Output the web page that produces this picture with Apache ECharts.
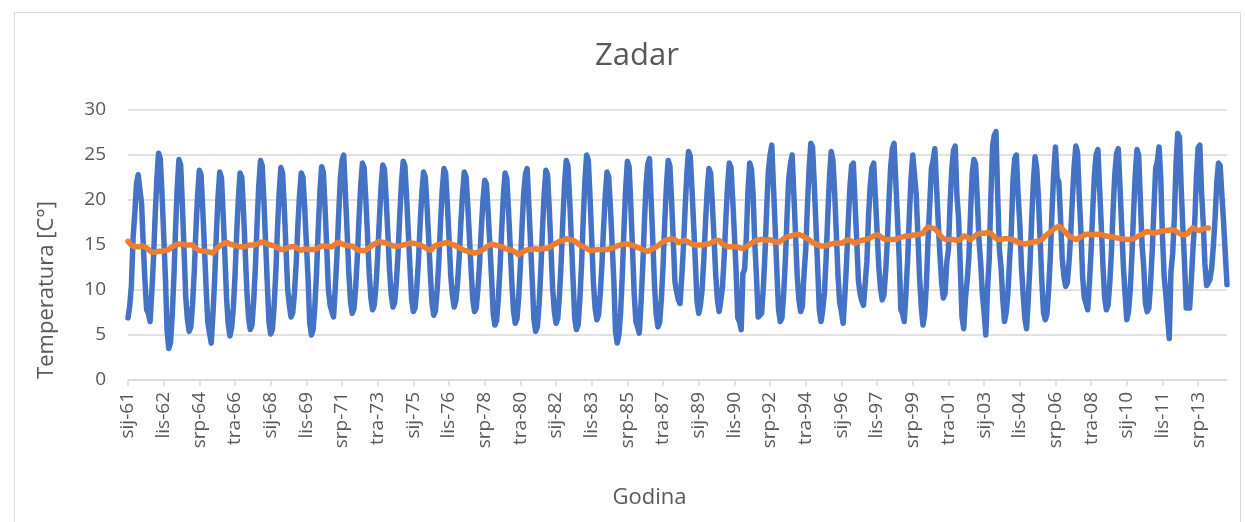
<!DOCTYPE html>
<html><head><meta charset="utf-8">
<script src="https://cdn.jsdelivr.net/npm/echarts@6/dist/echarts.min.js"></script>
<style>html,body{margin:0;padding:0;background:#fff}#c{width:1245px;height:522px}</style>
</head><body><div id="c"></div>
<script>
// Croatian month abbreviations used in the tick labels
const monthAbbr = ['sij','velj','ožu','tra','svi','lip','srp','kol','ruj','lis','stu','pro'];
const firstYear = 1961;
const lastYear = 2014;

// Monthly mean temperature, Zadar (one row per year, Jan..Dec)
const monthlyTemp = [
6.9, 8.2, 10.5, 15.8, 18.5, 21.8, 22.8, 22.7, 19.6, 15.0, 11.0, 7.8,
7.4, 6.5, 9.7, 13.4, 18.3, 22.4, 25.2, 24.6, 20.7, 16.2, 11.5, 5.5,
3.5, 4.1, 7.1, 11.3, 16.7, 21.4, 24.5, 23.9, 19.5, 14.4, 9.2, 6.7,
5.4, 5.9, 8.4, 12.0, 16.7, 20.6, 23.3, 22.8, 19.0, 14.7, 10.2, 6.4,
5.2, 4.1, 7.3, 11.1, 16.1, 20.3, 23.1, 22.5, 18.5, 14.0, 9.2, 6.2,
4.9, 5.8, 8.0, 11.6, 16.3, 20.3, 23.0, 22.5, 18.7, 14.3, 9.8, 6.9,
5.6, 6.1, 8.8, 12.6, 17.4, 21.6, 24.4, 23.8, 19.9, 15.4, 10.7, 6.4,
5.1, 5.6, 8.2, 11.9, 16.8, 20.8, 23.6, 23.0, 19.2, 14.7, 10.1, 8.3,
7.0, 7.5, 9.7, 12.9, 17.1, 20.6, 23.0, 22.5, 19.2, 15.3, 11.3, 6.3,
5.0, 5.6, 8.2, 11.9, 16.8, 20.9, 23.7, 23.1, 19.2, 14.7, 10.0, 8.3,
7.6, 7.0, 10.1, 13.7, 18.3, 22.3, 24.4, 25.0, 20.7, 16.4, 11.9, 8.7,
7.4, 7.9, 10.2, 13.6, 17.9, 21.6, 24.1, 23.6, 20.1, 16.1, 11.9, 9.1,
7.8, 8.3, 10.5, 13.8, 17.9, 21.5, 23.9, 23.4, 20.0, 16.2, 12.1, 9.4,
8.1, 8.6, 10.9, 14.1, 18.3, 21.9, 24.3, 23.8, 20.4, 16.5, 12.5, 8.9,
7.6, 8.0, 10.2, 13.3, 17.4, 20.8, 23.1, 22.6, 19.4, 15.7, 11.8, 8.5,
7.2, 7.7, 10.0, 13.2, 17.5, 21.1, 23.5, 23.0, 19.6, 15.7, 11.6, 9.4,
8.1, 8.8, 10.7, 13.7, 17.6, 20.9, 23.1, 22.6, 19.5, 15.9, 12.2, 8.9,
7.6, 8.0, 10.1, 13.0, 16.8, 20.0, 22.2, 21.8, 18.7, 15.2, 11.5, 7.4,
6.1, 6.6, 9.0, 12.4, 16.7, 20.5, 23.0, 22.4, 18.9, 14.9, 10.7, 7.6,
6.3, 6.8, 9.2, 12.7, 17.1, 20.9, 22.9, 23.5, 19.4, 15.2, 10.9, 6.7,
5.4, 5.9, 8.4, 12.0, 16.7, 20.6, 23.3, 22.8, 19.0, 14.7, 10.2, 7.6,
6.3, 6.8, 9.4, 13.0, 17.7, 21.7, 24.4, 23.8, 20.1, 15.7, 11.2, 6.9,
5.6, 6.1, 8.9, 12.8, 17.8, 22.1, 25.0, 24.4, 20.3, 15.7, 10.8, 8.0,
6.7, 7.2, 9.5, 12.8, 17.0, 20.6, 23.1, 22.6, 19.2, 15.2, 11.1, 5.4,
4.1, 5.0, 7.5, 11.6, 16.8, 21.3, 24.3, 23.7, 19.5, 14.6, 9.6, 6.5,
5.9, 5.2, 8.5, 12.4, 17.4, 21.7, 24.0, 24.6, 19.9, 15.3, 10.4, 7.2,
5.9, 6.4, 9.0, 12.7, 17.6, 21.6, 24.4, 23.8, 20.0, 15.5, 10.9, 9.8,
8.9, 8.5, 11.4, 14.8, 19.1, 22.9, 25.4, 24.9, 21.3, 17.3, 13.1, 8.7,
7.4, 8.3, 10.1, 13.4, 17.5, 21.1, 23.5, 23.0, 19.6, 15.8, 11.7, 8.9,
7.6, 8.8, 10.4, 13.7, 18.0, 21.6, 24.1, 23.6, 20.1, 16.2, 12.1, 6.9,
6.5, 5.6, 11.8, 12.3, 15.8, 21.0, 24.1, 23.5, 20.6, 15.2, 11.4, 7.0,
6.9, 7.4, 10.2, 14.0, 19.0, 23.2, 25.0, 26.1, 21.5, 16.9, 12.1, 7.8,
6.5, 6.9, 9.6, 13.3, 18.2, 22.4, 24.0, 25.0, 20.6, 16.1, 11.5, 8.9,
7.6, 8.2, 11.8, 14.5, 19.4, 23.5, 26.3, 25.9, 21.8, 17.3, 12.6, 7.8,
6.5, 7.8, 9.7, 13.5, 18.4, 22.6, 25.4, 24.4, 20.9, 16.3, 11.6, 8.6,
7.6, 6.3, 9.3, 12.9, 17.5, 21.4, 23.8, 24.1, 19.8, 15.6, 11.1, 9.6,
8.8, 8.3, 10.7, 13.2, 18.3, 21.7, 23.6, 24.1, 20.3, 16.5, 12.6, 10.2,
8.9, 9.4, 11.9, 15.3, 19.9, 23.7, 25.7, 26.3, 22.1, 17.9, 13.6, 7.8,
7.4, 6.5, 9.7, 13.4, 18.3, 22.4, 25.0, 25.2, 20.7, 16.2, 11.5, 8.2,
6.1, 7.3, 10.5, 15.5, 19.5, 23.5, 24.4, 25.7, 21.5, 17.5, 14.0, 10.8,
9.1, 9.6, 13.0, 14.5, 19.7, 23.5, 25.5, 26.0, 20.5, 17.9, 12.5, 7.0,
5.7, 9.0, 11.0, 13.5, 18.5, 23.0, 24.5, 24.0, 20.0, 15.5, 13.0, 9.5,
7.5, 5.0, 10.0, 13.4, 20.5, 26.0, 27.2, 27.6, 20.5, 14.5, 12.5, 9.0,
6.5, 7.5, 9.6, 13.3, 16.5, 22.2, 24.6, 25.0, 20.6, 17.5, 12.5, 9.5,
6.8, 5.7, 8.9, 12.8, 17.7, 21.9, 24.8, 23.5, 20.2, 15.6, 10.9, 7.5,
6.7, 7.3, 10.0, 13.8, 18.8, 23.0, 25.9, 22.5, 22.0, 18.0, 13.5, 11.5,
10.4, 10.8, 13.1, 16.2, 20.2, 23.7, 26.0, 25.3, 20.5, 16.5, 11.5, 9.1,
8.5, 7.8, 10.8, 14.4, 19.0, 22.9, 25.1, 25.6, 21.3, 17.1, 12.6, 9.1,
7.8, 8.3, 10.8, 14.4, 19.1, 23.0, 25.2, 25.7, 21.4, 17.1, 12.6, 9.5,
6.7, 7.6, 9.9, 13.7, 18.6, 22.8, 25.6, 25.0, 20.0, 15.0, 12.5, 8.5,
7.6, 8.0, 10.7, 14.4, 19.1, 23.5, 24.3, 25.9, 22.5, 16.0, 11.5, 9.5,
7.0, 4.6, 12.0, 14.0, 18.0, 24.0, 27.4, 27.0, 21.5, 17.0, 13.0, 8.0,
8.2, 8.0, 11.1, 14.7, 17.5, 22.5, 25.8, 26.1, 21.0, 17.4, 12.9, 10.5,
10.8, 11.2, 12.5, 15.0, 18.0, 22.0, 24.1, 23.8, 20.5, 17.5, 14.0, 10.6
];

// 12-month running mean (ends Jan 2014)
const runningMean = [
15.4, 15.2, 15.0, 14.8, 14.8, 14.7, 14.8, 14.8, 14.9, 14.8, 14.8, 14.6,
14.5, 14.4, 14.2, 14.1, 14.2, 14.3, 14.3, 14.4, 14.3, 14.4, 14.4, 14.4,
14.5, 14.7, 14.8, 14.9, 15.0, 15.1, 15.1, 15.2, 15.1, 15.0, 15.0, 15.1,
15.0, 14.9, 15.0, 14.8, 14.6, 14.5, 14.4, 14.4, 14.3, 14.4, 14.3, 14.2,
14.2, 14.1, 14.1, 14.3, 14.6, 14.8, 14.9, 15.0, 15.1, 15.2, 15.3, 15.2,
15.1, 15.1, 15.0, 15.0, 14.9, 14.9, 14.8, 14.9, 14.8, 14.9, 14.9, 14.9,
15.0, 14.9, 15.0, 15.1, 15.1, 15.2, 15.3, 15.4, 15.3, 15.1, 15.1, 15.0,
15.0, 14.9, 14.9, 14.8, 14.7, 14.6, 14.5, 14.4, 14.5, 14.6, 14.7, 14.8,
14.8, 14.7, 14.8, 14.8, 14.6, 14.5, 14.4, 14.5, 14.6, 14.6, 14.5, 14.5,
14.5, 14.4, 14.5, 14.6, 14.7, 14.8, 14.9, 15.0, 14.9, 14.9, 14.8, 14.8,
14.8, 14.9, 15.1, 15.2, 15.3, 15.2, 15.1, 15.1, 15.0, 15.0, 14.9, 14.9,
14.9, 14.7, 14.6, 14.5, 14.4, 14.3, 14.4, 14.4, 14.4, 14.6, 14.7, 14.9,
15.0, 15.1, 15.2, 15.3, 15.4, 15.3, 15.3, 15.2, 15.2, 15.2, 15.1, 15.0,
14.9, 14.9, 14.9, 15.0, 14.9, 15.0, 15.0, 15.0, 15.1, 15.1, 15.2, 15.2,
15.2, 15.1, 15.1, 15.0, 15.0, 14.9, 14.8, 14.7, 14.6, 14.5, 14.4, 14.6,
14.8, 14.9, 15.0, 15.0, 15.1, 15.1, 15.2, 15.2, 15.3, 15.2, 15.1, 15.0,
15.0, 14.9, 14.8, 14.7, 14.6, 14.5, 14.4, 14.3, 14.3, 14.2, 14.2, 14.1,
14.1, 14.1, 14.2, 14.3, 14.4, 14.5, 14.6, 14.8, 14.9, 15.0, 15.1, 15.0,
15.0, 14.9, 14.9, 14.8, 14.8, 14.7, 14.6, 14.5, 14.5, 14.4, 14.4, 14.3,
14.2, 14.0, 13.9, 14.0, 14.2, 14.3, 14.4, 14.4, 14.5, 14.5, 14.5, 14.5,
14.6, 14.6, 14.5, 14.6, 14.6, 14.6, 14.6, 14.6, 14.7, 14.8, 15.0, 15.1,
15.2, 15.3, 15.4, 15.5, 15.5, 15.6, 15.7, 15.6, 15.6, 15.5, 15.5, 15.4,
15.3, 15.1, 15.0, 14.9, 14.8, 14.7, 14.6, 14.5, 14.4, 14.3, 14.4, 14.4,
14.5, 14.5, 14.5, 14.4, 14.5, 14.5, 14.5, 14.6, 14.6, 14.7, 14.7, 14.8,
14.9, 14.9, 15.0, 15.1, 15.1, 15.2, 15.1, 15.1, 15.0, 14.9, 14.9, 14.8,
14.7, 14.7, 14.6, 14.5, 14.4, 14.4, 14.3, 14.4, 14.5, 14.6, 14.7, 14.8,
14.9, 15.1, 15.2, 15.4, 15.5, 15.5, 15.6, 15.6, 15.7, 15.7, 15.6, 15.4,
15.3, 15.3, 15.4, 15.5, 15.5, 15.4, 15.3, 15.2, 15.1, 15.0, 15.0, 15.0,
15.0, 15.0, 15.0, 15.0, 15.1, 15.1, 15.1, 15.2, 15.3, 15.4, 15.5, 15.6,
15.5, 15.3, 15.1, 15.0, 14.9, 14.8, 14.8, 14.8, 14.8, 14.8, 14.8, 14.7,
14.7, 14.6, 14.6, 14.7, 14.8, 15.0, 15.1, 15.2, 15.3, 15.4, 15.5, 15.5,
15.6, 15.6, 15.6, 15.6, 15.5, 15.6, 15.6, 15.5, 15.4, 15.4, 15.3, 15.3,
15.4, 15.5, 15.7, 15.8, 15.9, 15.9, 16.0, 16.0, 16.1, 16.1, 16.2, 16.2,
16.1, 16.0, 15.9, 15.8, 15.7, 15.6, 15.4, 15.3, 15.2, 15.1, 15.0, 15.0,
14.9, 14.9, 14.9, 14.9, 15.0, 15.0, 15.1, 15.2, 15.2, 15.2, 15.2, 15.2,
15.2, 15.3, 15.4, 15.5, 15.6, 15.5, 15.4, 15.3, 15.2, 15.3, 15.4, 15.5,
15.5, 15.6, 15.6, 15.6, 15.7, 15.8, 15.9, 16.0, 16.1, 16.2, 16.1, 16.0,
15.8, 15.7, 15.6, 15.6, 15.6, 15.6, 15.6, 15.6, 15.6, 15.7, 15.8, 15.9,
15.9, 16.0, 16.0, 16.0, 16.0, 16.1, 16.1, 16.1, 16.1, 16.2, 16.2, 16.3,
16.3, 16.6, 16.8, 17.0, 17.0, 16.9, 16.8, 16.8, 16.7, 16.4, 16.1, 15.9,
15.7, 15.7, 15.6, 15.6, 15.6, 15.6, 15.6, 15.5, 15.5, 15.5, 15.6, 15.8,
16.0, 16.1, 15.9, 15.7, 15.6, 15.8, 15.9, 16.0, 16.2, 16.3, 16.3, 16.3,
16.3, 16.4, 16.4, 16.4, 16.3, 16.1, 15.9, 15.8, 15.6, 15.6, 15.6, 15.7,
15.7, 15.7, 15.7, 15.6, 15.6, 15.5, 15.5, 15.4, 15.3, 15.3, 15.2, 15.2,
15.1, 15.1, 15.2, 15.2, 15.3, 15.4, 15.4, 15.4, 15.4, 15.4, 15.6, 15.8,
16.0, 16.1, 16.3, 16.5, 16.6, 16.8, 16.9, 17.0, 17.1, 17.0, 16.8, 16.6,
16.4, 16.2, 16.0, 15.9, 15.8, 15.7, 15.6, 15.7, 15.8, 15.9, 16.0, 16.1,
16.2, 16.2, 16.2, 16.1, 16.1, 16.1, 16.2, 16.2, 16.2, 16.2, 16.1, 16.1,
16.0, 16.0, 15.9, 15.9, 15.9, 15.8, 15.8, 15.8, 15.7, 15.7, 15.7, 15.6,
15.6, 15.6, 15.6, 15.7, 15.7, 15.8, 15.9, 16.0, 16.1, 16.2, 16.3, 16.4,
16.5, 16.5, 16.4, 16.4, 16.3, 16.3, 16.4, 16.4, 16.5, 16.5, 16.6, 16.6,
16.6, 16.7, 16.7, 16.7, 16.6, 16.5, 16.4, 16.3, 16.2, 16.1, 16.1, 16.0,
16.3, 16.6, 16.8, 16.9, 16.8, 16.7, 16.6, 16.6, 16.7, 16.8, 16.8, 16.9,
16.9
];

const yMin = 0, yMax = 30, yStep = 5;
const labelEvery = 21; // months between x tick labels

// category labels "sij-61" ...
const categories = [];
for (let y = firstYear; y <= lastYear; y++) {
  for (let m = 0; m < 12; m++) categories.push(monthAbbr[m] + '-' + String(y % 100).padStart(2, '0'));
}

const FONT = 'Open Sans';
const GREY = '#595959';
const chart = echarts.init(document.getElementById('c'), null, {renderer: 'canvas'});
chart.setOption({
  animation: false,
  backgroundColor: '#ffffff',
  graphic: [{
    type: 'rect', left: 12, top: 10, silent: true,
    shape: {x: 0, y: 0, width: 1226, height: 530},
    style: {fill: 'none', stroke: '#d9d9d9', lineWidth: 1}
  }],
  title: {
    text: 'Zadar', left: 590, top: 36,
    textStyle: {fontFamily: FONT, fontSize: 31, fontWeight: 'normal', color: GREY}
  },
  grid: {left: 128, right: 18, top: 110, bottom: 142, containLabel: false},
  xAxis: {
    type: 'category', data: categories, boundaryGap: false,
    name: 'Godina', nameLocation: 'middle', nameGap: 107,
    nameTextStyle: {fontFamily: FONT, fontSize: 22, color: GREY, padding: [0, 56, 0, 0]},
    axisLine: {lineStyle: {color: '#d9d9d9', width: 1.5}},
    axisTick: {show: true, interval: labelEvery - 1, length: 6, lineStyle: {color: '#d9d9d9', width: 1.5}},
    axisLabel: {interval: labelEvery - 1, rotate: 90, margin: 12, fontFamily: FONT, fontSize: 19, color: GREY, hideOverlap: false},
    splitLine: {show: false}
  },
  yAxis: {
    type: 'value', min: yMin, max: yMax, interval: yStep,
    name: 'Temperatura [C°]', nameLocation: 'middle', nameGap: 70, nameRotate: 90,
    nameTextStyle: {fontFamily: FONT, fontSize: 22, color: GREY, padding: [0, 90, 0, 0]},
    axisLine: {show: false}, axisTick: {show: false},
    axisLabel: {margin: 22, fontFamily: FONT, fontSize: 19, color: GREY},
    splitLine: {lineStyle: {color: '#d9d9d9', width: 1.5}}
  },
  series: [{
    type: 'line', data: monthlyTemp, showSymbol: false, symbol: 'none',
    lineStyle: {color: '#4472C4', width: 5.5, cap: 'round', join: 'round'},
    itemStyle: {color: '#4472C4'}, z: 2
  }, {
    type: 'line', data: runningMean, showSymbol: false, symbol: 'none',
    lineStyle: {color: '#ED7D31', width: 5.5, cap: 'round', join: 'round'},
    itemStyle: {color: '#ED7D31'}, z: 3
  }]
});
</script></body></html>
